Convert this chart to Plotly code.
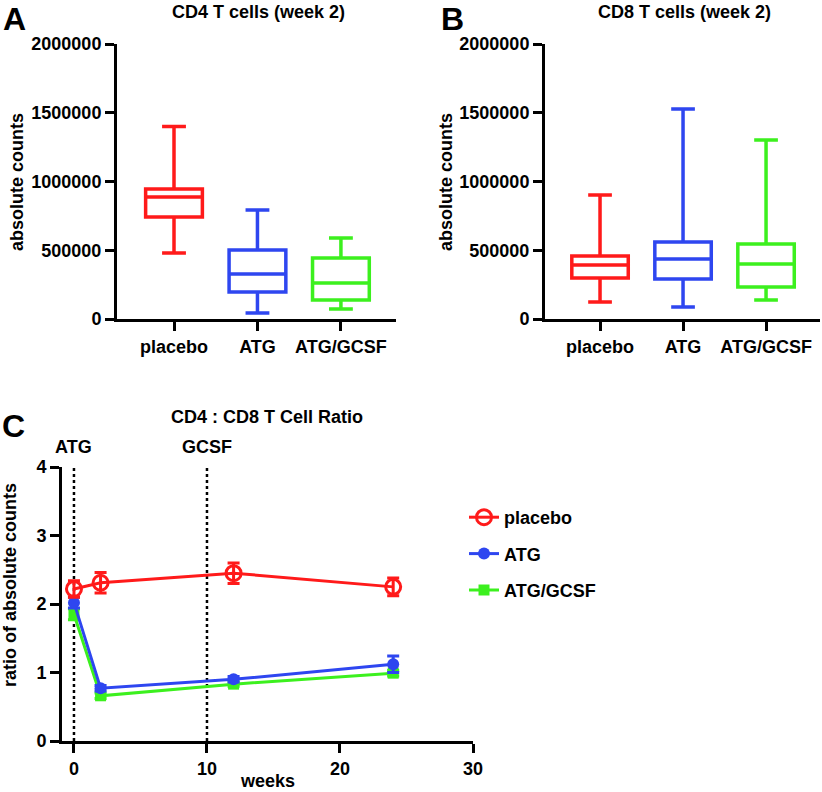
import plotly.graph_objects as go

# ---------------- data ----------------
groups = ["placebo", "ATG", "ATG/GCSF"]
colors = ["#ff1a1a", "#2e46f0", "#3cf01e"]

# Panel A: CD4 T cells (week 2) box stats
cd4_min = [480000, 44000, 73000]
cd4_q1 = [742000, 196000, 138000]
cd4_med = [887000, 327000, 262000]
cd4_q3 = [945000, 502000, 444000]
cd4_max = [1400000, 793000, 589000]

# Panel B: CD8 T cells (week 2) box stats
cd8_min = [124000, 87000, 138000]
cd8_q1 = [298000, 291000, 233000]
cd8_med = [393000, 436000, 400000]
cd8_q3 = [458000, 560000, 545000]
cd8_max = [902000, 1527000, 1302000]

count_ticks = [0, 500000, 1000000, 1500000, 2000000]

# Panel C: CD4:CD8 ratio
weeks = [0, 2, 12, 24]
ratio_placebo = [2.22, 2.31, 2.45, 2.25]
err_placebo = [0.12, 0.15, 0.15, 0.13]
ratio_atg = [2.02, 0.77, 0.90, 1.12]
err_atg = [0.08, 0.04, 0.04, 0.12]
ratio_gcsf = [1.85, 0.66, 0.83, 0.99]
err_gcsf = [0.08, 0.04, 0.03, 0.04]
event_weeks = [0, 10]
event_labels = ["ATG", "GCSF"]
ratio_ticks = [0, 1, 2, 3, 4]
week_ticks = [0, 10, 20, 30]

FONT = "Liberation Sans, Arial, sans-serif"
W, H = 822, 792

fig = go.Figure()


def add_boxes(axis_x, axis_y, mins, q1s, meds, q3s, maxs):
    for i, g in enumerate(groups):
        fig.add_trace(go.Box(
            x=[g], q1=[q1s[i]], median=[meds[i]], q3=[q3s[i]],
            lowerfence=[mins[i]], upperfence=[maxs[i]],
            line=dict(color=colors[i], width=3.5),
            fillcolor="rgba(0,0,0,0)", whiskerwidth=0.42, width=0.68,
            boxpoints=False, showlegend=False, hoverinfo="skip",
            xaxis=axis_x, yaxis=axis_y))


add_boxes("x", "y", cd4_min, cd4_q1, cd4_med, cd4_q3, cd4_max)
add_boxes("x2", "y2", cd8_min, cd8_q1, cd8_med, cd8_q3, cd8_max)

# Panel C lines (drawn green, blue, red so red is on top)
series = [
    ("ATG/GCSF", ratio_gcsf, err_gcsf, colors[2], dict(symbol="square", size=11, color=colors[2]), 3),
    ("ATG", ratio_atg, err_atg, colors[1], dict(symbol="circle", size=12, color=colors[1]), 2),
    ("placebo", ratio_placebo, err_placebo, colors[0],
     dict(symbol="circle-open", size=15, color=colors[0], line=dict(width=3, color=colors[0])), 1),
]
for name, ys, es, c, mk, rank in series:
    fig.add_trace(go.Scatter(
        x=weeks, y=ys, name=name, mode="lines+markers", legendgroup=name,
        line=dict(color=c, width=3), marker=mk,
        error_y=dict(type="data", array=es, color=c, thickness=3, width=6),
        legendrank=rank, xaxis="x3", yaxis="y3"))

# dotted event lines
for wk in event_weeks:
    fig.add_shape(type="line", xref="x3", yref="y3", x0=wk, x1=wk, y0=0, y1=4,
                  line=dict(color="black", width=2.5, dash="dot"), layer="below")

axis_common = dict(showline=True, linecolor="black", linewidth=3, ticks="outside",
                   ticklen=9, tickwidth=3, tickcolor="black", showgrid=False, zeroline=False,
                   automargin=False,
                   tickfont=dict(family=FONT, size=18, color="black", weight="bold"))


def px(x):
    return x / W


def py(y):
    return 1 - y / H


def dom_x(a, b):
    return [px(a), px(b)]


def dom_y(top, bottom):
    return [py(bottom), py(top)]


fig.update_layout(
    template="none",
    width=W, height=H, margin=dict(l=0, r=0, t=0, b=0, autoexpand=False),
    paper_bgcolor="white", plot_bgcolor="white",
    boxmode="overlay",
    font=dict(family=FONT, size=18, color="black", weight="bold"),
    xaxis=dict(domain=dom_x(117, 396), anchor="y", type="category",
               range=[-0.683, 2.66], **axis_common),
    yaxis=dict(domain=dom_y(44, 319), anchor="x", range=[0, 2000000],
               tickvals=count_ticks, tickformat="d", **axis_common),
    xaxis2=dict(domain=dom_x(545, 820), anchor="y2", type="category",
                range=[-0.663, 2.65], **axis_common),
    yaxis2=dict(domain=dom_y(44, 319), anchor="x2", range=[0, 2000000],
                tickvals=count_ticks, tickformat="d", **axis_common),
    xaxis3=dict(domain=dom_x(62, 473), anchor="y3", range=[-0.9, 30],
                tickvals=week_ticks, **axis_common),
    yaxis3=dict(domain=dom_y(467, 741), anchor="x3", range=[0, 4],
                tickvals=ratio_ticks, **axis_common),
    legend=dict(x=px(464), y=py(499), xanchor="left", yanchor="top",
                font=dict(family=FONT, size=18, color="black", weight="bold"),
                bgcolor="rgba(0,0,0,0)", tracegroupgap=10, itemwidth=30),
)


def ann(text, x, y, size=18, angle=0):
    fig.add_annotation(text=text, x=px(x), y=py(y), xref="paper", yref="paper",
                       showarrow=False, textangle=angle,
                       font=dict(family=FONT, size=size, color="black", weight="bold"),
                       xanchor="center", yanchor="middle")


# titles
ann("CD4 T cells (week 2)", 258, 12)
ann("CD8 T cells (week 2)", 684, 12)
ann("CD4 : CD8 T Cell Ratio", 267, 417)
# panel letters
ann("A", 15, 19, size=32)
ann("B", 452, 19, size=32)
ann("C", 13, 426, size=32)
# axis titles
ann("absolute counts", 17, 182, angle=-90)
ann("absolute counts", 446, 182, angle=-90)
ann("ratio of absolute counts", 10, 585, angle=-90)
ann("weeks", 267, 781)
# event labels
for wk, lab in zip(event_weeks, event_labels):
    fig.add_annotation(text=lab, x=wk, y=py(447), xref="x3", yref="paper",
                       showarrow=False,
                       font=dict(family=FONT, size=18, color="black", weight="bold"),
                       xanchor="center", yanchor="middle")

fig.write_html("out.html", config={"displayModeBar": False},
               post_script="document.body.style.margin='0px';")
